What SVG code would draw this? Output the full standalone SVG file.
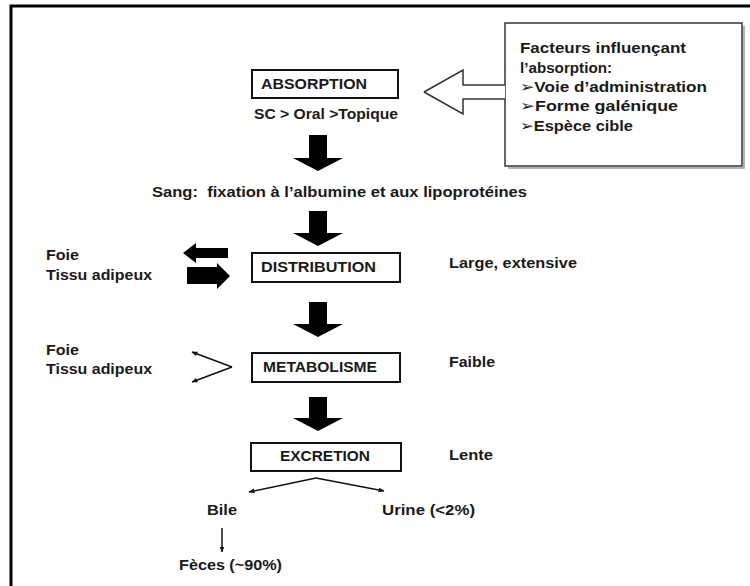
<svg xmlns="http://www.w3.org/2000/svg" width="750" height="586" viewBox="0 0 750 586">
<defs>
<style>
text{font-family:"Liberation Sans","DejaVu Sans",Arial,sans-serif;font-weight:bold;font-size:15px;fill:#1a1a1a;white-space:pre}
.box{fill:#fff;stroke:#111;stroke-width:2}
.shadow{fill:none;stroke:#999;stroke-width:1.5}
.big{fill:#000;stroke:none}
.thin{fill:none;stroke:#111;stroke-width:1.5}
</style>
<marker id="ah" viewBox="0 0 10 10" refX="9" refY="5" markerWidth="6" markerHeight="6" orient="auto" markerUnits="userSpaceOnUse">
<path d="M0,1 L10,5 L0,9 z" fill="#111"/>
</marker>
</defs>
<rect width="750" height="586" fill="#fff"/>
<path d="M11,586 V6 H750" fill="none" stroke="#000" stroke-width="3"/>

<g id="facteurs">
<path class="shadow" d="M744,26 V168 H508"/>
<rect x="505" y="23" width="237" height="143" fill="#fff" stroke="#333" stroke-width="1.5"/>
<text x="520" y="53" textLength="166" lengthAdjust="spacingAndGlyphs">Facteurs influençant</text>
<text x="520" y="73" textLength="92" lengthAdjust="spacingAndGlyphs">l’absorption:</text>
<text x="520" y="92" textLength="187" lengthAdjust="spacingAndGlyphs">➢Voie d’administration</text>
<text x="520" y="111" textLength="158" lengthAdjust="spacingAndGlyphs">➢Forme galénique</text>
<text x="520" y="131" textLength="113" lengthAdjust="spacingAndGlyphs">➢Espèce cible</text>
</g>

<g id="absorption">
<rect class="box" x="252" y="70" width="146" height="28"/>
<text x="261" y="89" textLength="106" lengthAdjust="spacingAndGlyphs">ABSORPTION</text>
<text x="254" y="119" textLength="144" lengthAdjust="spacingAndGlyphs">SC &gt; Oral &gt;Topique</text>
</g>

<g id="sang">
<text x="152" y="197" textLength="375" lengthAdjust="spacingAndGlyphs" xml:space="preserve">Sang:  fixation à l’albumine et aux lipoprotéines</text>
</g>

<g id="distribution">
<rect class="box" x="252" y="253" width="148" height="29"/>
<text x="261" y="272" textLength="115" lengthAdjust="spacingAndGlyphs">DISTRIBUTION</text>
<text x="449" y="268" textLength="128" lengthAdjust="spacingAndGlyphs">Large, extensive</text>
<text x="46" y="260" textLength="33" lengthAdjust="spacingAndGlyphs">Foie</text>
<text x="46" y="280" textLength="106" lengthAdjust="spacingAndGlyphs">Tissu adipeux</text>
</g>

<g id="metabolisme">
<rect class="box" x="252" y="353" width="148" height="29"/>
<text x="263" y="372" textLength="114" lengthAdjust="spacingAndGlyphs">METABOLISME</text>
<text x="449" y="367" textLength="46" lengthAdjust="spacingAndGlyphs">Faible</text>
<text x="46" y="355" textLength="33" lengthAdjust="spacingAndGlyphs">Foie</text>
<text x="46" y="374" textLength="106" lengthAdjust="spacingAndGlyphs">Tissu adipeux</text>
</g>

<g id="excretion">
<rect class="box" x="251" y="443" width="150" height="28"/>
<text x="280" y="461" textLength="90" lengthAdjust="spacingAndGlyphs">EXCRETION</text>
<text x="449" y="460" textLength="44" lengthAdjust="spacingAndGlyphs">Lente</text>
</g>

<g id="bile">
<text x="207" y="515" textLength="30" lengthAdjust="spacingAndGlyphs">Bile</text>
</g>
<g id="urine">
<text x="382" y="515" textLength="93" lengthAdjust="spacingAndGlyphs">Urine (&lt;2%)</text>
</g>
<g id="feces">
<text x="179" y="570" textLength="103" lengthAdjust="spacingAndGlyphs">Fèces (~90%)</text>
</g>

<g id="connectors">
<path d="M424,92 L463,70 L463,85 L505,85 L505,99 L463,99 L463,114 Z" fill="#fff" stroke="none"/>
<path d="M424,92 L463,70 L463,85 L505,85 M505,99 L463,99 L463,114 L424,92" fill="none" stroke="#333" stroke-width="1.5"/>

<path class="big" d="M309,135 H327 V158 H343 L318,171 L293,158 H309 Z"/>
<path class="big" d="M309,211 H327 V233 H343 L318,246 L293,233 H309 Z"/>
<path class="big" d="M309,302 H327 V324 H343 L318,337 L293,324 H309 Z"/>
<path class="big" d="M309,397 H327 V418 H343 L318,431 L293,418 H309 Z"/>

<path class="big" d="M228,248 H196 V243 L183,253 L196,263 V258 H228 Z"/>
<path class="big" d="M187,267 H217 V263 L230,276 L217,289 V284 H187 Z"/>

<path class="thin" d="M232,367 L192,352" marker-end="url(#ah)"/>
<path class="thin" d="M232,367 L192,382" marker-end="url(#ah)"/>

<path class="thin" d="M316,478 L249,492" marker-end="url(#ah)"/>
<path class="thin" d="M316,478 L384,491" marker-end="url(#ah)"/>

<path class="thin" d="M222,528 V552" marker-end="url(#ah)"/>
</g>
</svg>
